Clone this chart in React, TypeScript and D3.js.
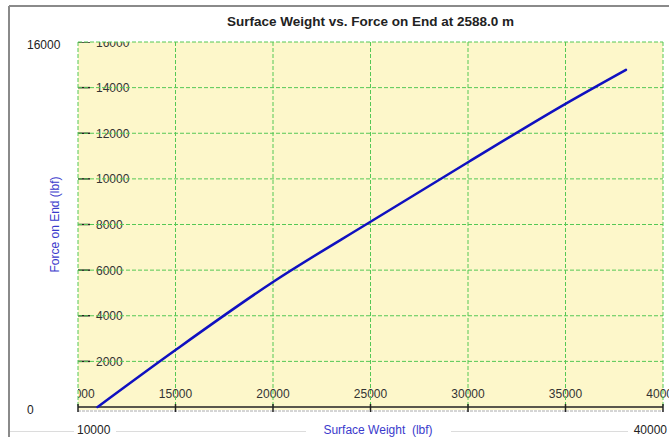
import React from 'react'
import * as d3 from 'd3'

// values
const surfaceWeight = [11000, 15000, 20000, 25000, 30000, 35000, 38100]
const forceOnEnd = [0, 2500, 5480, 8120, 10730, 13290, 14780]
const xTicks = [10000, 15000, 20000, 25000, 30000, 35000, 40000]
const yTicks = [2000, 4000, 6000, 8000, 10000, 12000, 14000, 16000]

const W = 669, H = 437
const plot = { left: 78, right: 663, top: 42, bottom: 407 }
const gridColor = '#55c855'
const labelBlue = '#3a3acc'

export default function App() {
    const x = d3.scaleLinear().domain([10000, 40000]).range([plot.left, plot.right])
    const y = d3.scaleLinear().domain([0, 16000]).range([plot.bottom, plot.top])

    const data = surfaceWeight.map((w, i) => ({ w: w, f: forceOnEnd[i] }))
    const line = d3.line<{ w: number, f: number }>()
        .x(d => x(d.w))
        .y(d => y(d.f))
        .curve(d3.curveMonotoneX)

    return (
        <svg width={W} height={H} style={{ position: 'absolute', left: 0, top: 0 }}
            fontFamily='"Liberation Sans", Arial, sans-serif'>
            <defs>
                <clipPath id="plotClip">
                    <rect x={plot.left} y={plot.top} width={W - plot.left} height={plot.bottom - plot.top + 6} />
                </clipPath>
            </defs>
            <rect x={0} y={0} width={W} height={H} fill="#fff" />
            {/* outer frame */}
            <line x1={9} y1={6} x2={W} y2={6} stroke="#8a8a8a" strokeWidth={2} />
            <line x1={9} y1={6} x2={9} y2={H} stroke="#8a8a8a" strokeWidth={2} />

            <text x={(plot.left + plot.right) / 2} y={26} textAnchor="middle" fontSize={13.5}
                fontWeight="bold" fill="#222">Surface Weight vs. Force on End at 2588.0 m</text>

            {/* plot background */}
            <rect x={plot.left} y={plot.top} width={plot.right - plot.left} height={plot.bottom - plot.top + 3}
                fill="#fdf7ca" />

            {/* inner tick labels */}
            <g clipPath="url(#plotClip)" fontSize={12} fill="#333">
                {yTicks.map(t => (
                    <g key={'yt' + t}>
                        <line x1={plot.left} x2={plot.left + 12} y1={y(t)} y2={y(t)} stroke="#222" strokeWidth={1.5} />
                        <text x={plot.left + 18} y={y(t) + 4.5}>{t}</text>
                    </g>
                ))}
                {xTicks.map(t => (
                    <text key={'xt' + t} x={x(t)} y={398} textAnchor="middle">{t}</text>
                ))}
            </g>

            {/* grid */}
            <g stroke={gridColor} strokeWidth={1} strokeDasharray="4,2" fill="none">
                {yTicks.map(t => (
                    <line key={'gy' + t} x1={plot.left} x2={plot.right} y1={y(t)} y2={y(t)} />
                ))}
                {xTicks.map(t => (
                    <line key={'gx' + t} x1={x(t)} x2={x(t)} y1={plot.top} y2={plot.bottom} />
                ))}
            </g>

            {/* x axis line */}
            <line x1={plot.left} x2={plot.right} y1={plot.bottom} y2={plot.bottom} stroke="#222" strokeWidth={1.5} />
            <line x1={plot.left} x2={plot.right} y1={plot.bottom + 4} y2={plot.bottom + 4} stroke="#aaa"
                strokeWidth={1} strokeDasharray="3,1" />
            {xTicks.map(t => (
                <line key={'xk' + t} x1={x(t)} x2={x(t)} y1={plot.bottom - 3} y2={plot.bottom + 5} stroke="#222" strokeWidth={1.5} />
            ))}

            <path d={line(data) || ''} fill="none" stroke="#1010c0" strokeWidth={2.5} strokeLinecap="round" />

            {/* outer labels */}
            <text x={27} y={49} fontSize={12} fill="#222">{d3.max(yTicks)}</text>
            <text x={27} y={414} fontSize={12} fill="#222">{y.domain()[0]}</text>

            <line x1={10} x2={W} y1={431.5} y2={431.5} stroke="#dcdcdc" strokeWidth={1} />
            <rect x={74} y={423} width={42} height={14} fill="#fff" />
            <text x={77} y={434} fontSize={12} fill="#222">{x.domain()[0]}</text>
            <rect x={628} y={423} width={41} height={14} fill="#fff" />
            <text x={667} y={434} fontSize={12} fill="#222" textAnchor="end">{x.domain()[1]}</text>
            <rect x={306} y={423} width={145} height={14} fill="#fff" />
            <text x={378} y={434} fontSize={12} fill={labelBlue} textAnchor="middle"
                style={{ whiteSpace: 'pre' }}>{'Surface Weight  (lbf)'}</text>

            <text transform={`translate(59,${(plot.top + plot.bottom) / 2 + 0}) rotate(-90)`} fontSize={12}
                fill={labelBlue} textAnchor="middle">Force on End (lbf)</text>
        </svg>
    )
}
